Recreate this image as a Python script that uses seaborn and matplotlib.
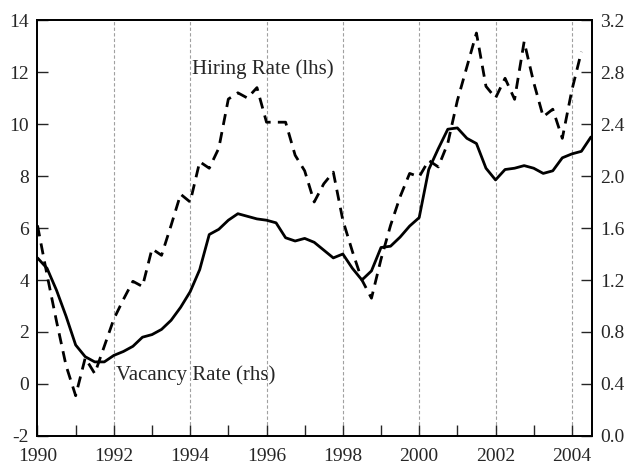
import numpy as np
import pandas as pd
import matplotlib
matplotlib.use("Agg")
import matplotlib.pyplot as plt
import seaborn as sns
from matplotlib.ticker import MultipleLocator, FixedLocator

# Quarterly hiring rate (left axis), 1990Q1 .. 2004Q2
hiring_rate = [
    6.1, 4.2, 2.4, 0.7,
    -0.45, 1.0, 0.4, 1.45,
    2.5, 3.25, 3.95, 3.75,
    5.2, 4.95, 6.1, 7.3,
    7.0, 8.55, 8.3, 9.07,
    10.96, 11.2, 11.0, 11.4,
    10.07, 10.07, 10.07, 8.8,
    8.2, 7.0, 7.7, 8.15,
    6.3, 5.1, 4.0, 3.3,
    4.8, 6.1, 7.2, 8.1,
    7.97, 8.6, 8.35, 9.26,
    10.9, 12.2, 13.5, 11.45,
    11.0, 11.76, 10.95, 13.17,
    11.6, 10.28, 10.57, 9.45,
    11.3, 12.78,
]
# Quarterly vacancy rate (right axis), 1990Q1 .. 2004Q3
vacancy_rate = [
    1.37, 1.29, 1.12, 0.92,
    0.70, 0.61, 0.57, 0.57,
    0.62, 0.65, 0.69, 0.76,
    0.78, 0.82, 0.89, 0.99,
    1.11, 1.28, 1.55, 1.59,
    1.66, 1.71, 1.69, 1.67,
    1.66, 1.64, 1.525, 1.50,
    1.52, 1.49, 1.43, 1.37,
    1.40, 1.29, 1.20, 1.27,
    1.45, 1.46, 1.53, 1.615,
    1.68, 2.05, 2.21, 2.36,
    2.37, 2.29, 2.25, 2.06,
    1.97, 2.05, 2.06, 2.08,
    2.06, 2.02, 2.04, 2.14,
    2.17, 2.19, 2.30,
]
start_year = 1990.0
hiring_dates = start_year + np.arange(len(hiring_rate)) * 0.25
vacancy_dates = start_year + np.arange(len(vacancy_rate)) * 0.25

x_ticks = [1990, 1992, 1994, 1996, 1998, 2000, 2002, 2004]
left_ticks = [-2, 0, 2, 4, 6, 8, 10, 12, 14]
right_ticks = [0.0, 0.4, 0.8, 1.2, 1.6, 2.0, 2.4, 2.8, 3.2]

hire_df = pd.DataFrame({"date": hiring_dates, "value": hiring_rate})
vac_df = pd.DataFrame({"date": vacancy_dates, "value": vacancy_rate})

sns.set_style("white")
plt.rcParams["font.family"] = ["Liberation Serif", "DejaVu Serif"]

fig = plt.figure(figsize=(6.28, 4.68), dpi=100)
ax = fig.add_axes([0.0597, 0.0684, 0.8825, 0.8888])
ax2 = ax.twinx()

sns.lineplot(data=hire_df, x="date", y="value", ax=ax, color="black",
             linewidth=2.0, linestyle=(0, (4, 2.6)))
sns.lineplot(data=vac_df, x="date", y="value", ax=ax2, color="black",
             linewidth=2.0)

ax.set_xlim(1990, 2004.52)
ax.set_ylim(-2, 14)
ax2.set_ylim(0.0, 3.2)

ax.xaxis.set_major_locator(FixedLocator(x_ticks))
ax.xaxis.set_minor_locator(MultipleLocator(1))
ax.set_xticklabels([str(t) for t in x_ticks])
ax.set_yticks(left_ticks)
ax.set_yticklabels([str(t) for t in left_ticks])
ax2.set_yticks(right_ticks)
ax2.set_yticklabels([f"{t:.1f}" for t in right_ticks])

for t in x_ticks[1:]:
    ax.axvline(t, color="#a0a0a0", linestyle=(0, (3, 2)), linewidth=0.8, zorder=0)

ax.tick_params(axis="x", which="both", direction="in", length=8, width=1,
               labelsize=14, pad=9, top=False, bottom=True)
ax.tick_params(axis="y", direction="in", length=8, width=1, labelsize=14,
               pad=6, left=True, right=False)
ax2.tick_params(axis="y", direction="in", length=8, width=1, labelsize=14,
                pad=6, right=True, left=False)

for a in (ax, ax2):
    a.set_xlabel("")
    a.set_ylabel("")
    for s in a.spines.values():
        s.set_color("black")
        s.set_linewidth(1.3)
    a.grid(False)

ax.text(1994.05, 12.1, "Hiring Rate (lhs)", fontsize=15, va="center", ha="left")
ax.text(1992.05, 0.35, "Vacancy Rate (rhs)", fontsize=15, va="center", ha="left")

fig.savefig("out.png", dpi=100)
